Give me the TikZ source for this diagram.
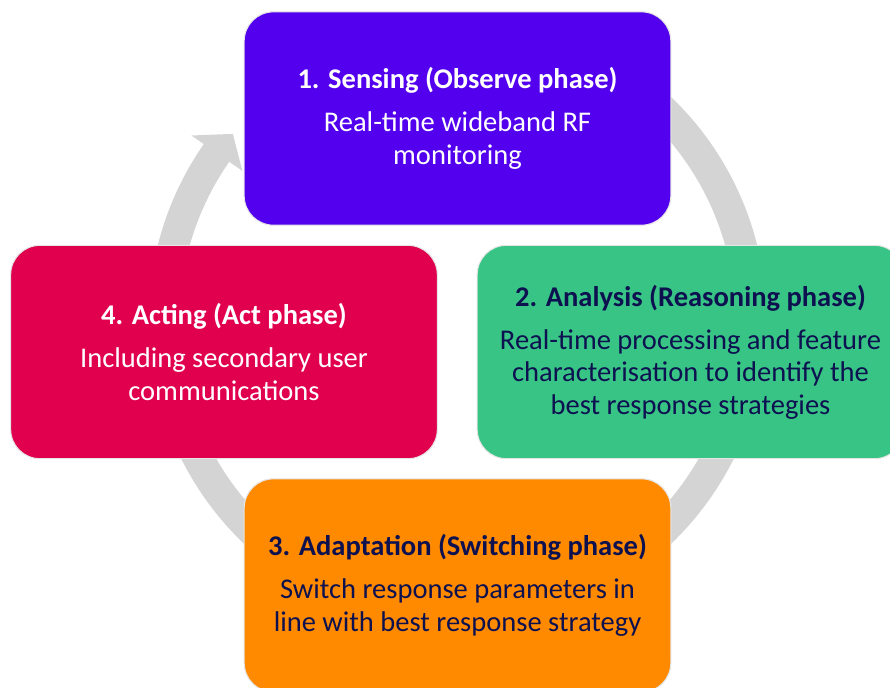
\documentclass[tikz,border=0pt]{standalone}
\usepackage{fontspec}
\setmainfont{Carlito}
\usepackage{tikz}
\definecolor{sensecol}{HTML}{5200EE}
\definecolor{actcol}{HTML}{E0004E}
\definecolor{anacol}{HTML}{38C485}
\definecolor{adaptcol}{HTML}{FF8A00}
\definecolor{ringcol}{HTML}{D4D4D4}
\definecolor{navy}{HTML}{0D1150}

\begin{document}
\begin{tikzpicture}[
    x=0.75pt, y=0.75pt,
    phase/.style={rounded corners=22pt, draw=white!80!gray, line width=0.8pt,
      minimum width=320pt, minimum height=160pt, align=center,
      font=\fontsize{21.4}{24.4}\selectfont},
    ring/.style={fill=ringcol}
    ]
    \useasboundingbox (0,0) rectangle (890,-687);
    \clip (0,0) rectangle (890,-687);
    \fill[ring, shift={(457.5,-320.4)}] (60:309) arc[start angle=60, end angle=-214.8, radius=309]
      -- (-214.8:324) -- (-219.7:292) -- (-214.8:262) -- (-214.8:278)
      arc[start angle=-214.8, end angle=60, radius=278] -- cycle;
    \node[phase, fill=sensecol, text=white] (sensing) at (457.5,-118.5)
      {\textbf{1. Sensing (Observe phase)}\\[8pt] Real-time wideband RF\\ monitoring};
    \node[phase, fill=anacol, text=navy] (analysis) at (690.5,-352)
      {\textbf{2. Analysis (Reasoning phase)}\\[8pt] Real-time processing and feature\\
       characterisation to identify the\\ best response strategies};
    \node[phase, fill=adaptcol, text=navy] (adaptation) at (457.5,-585.5)
      {\textbf{3. Adaptation (Switching phase)}\\[8pt] Switch response parameters in\\
       line with best response strategy};
    \node[phase, fill=actcol, text=white] (acting) at (224,-352)
      {\textbf{4. Acting (Act phase)}\\[8pt] Including secondary user\\ communications};
\end{tikzpicture}
\end{document}
